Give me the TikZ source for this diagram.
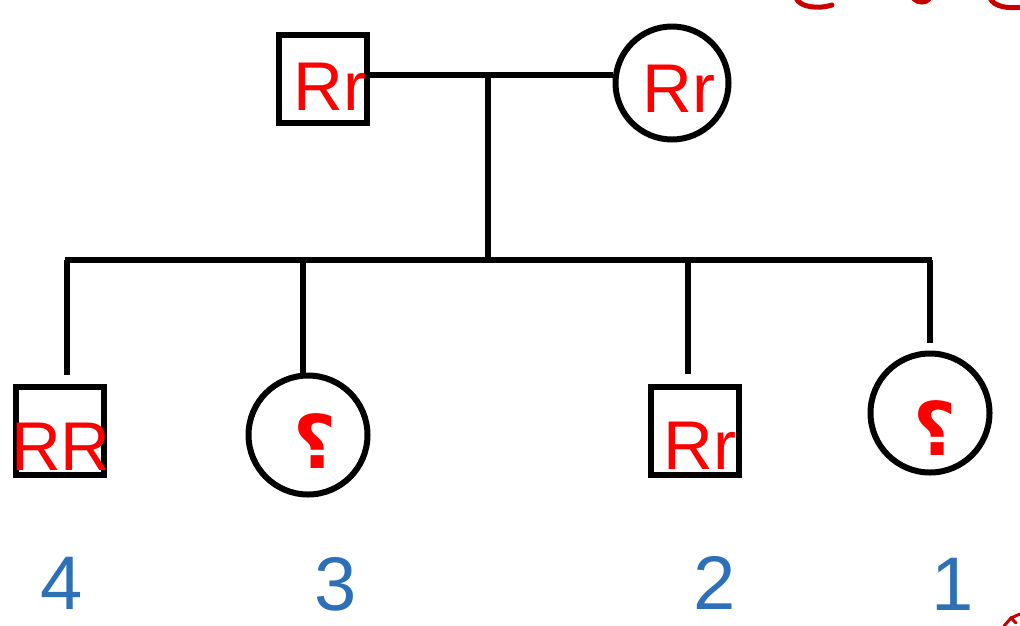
\documentclass[tikz,border=0pt]{standalone}
\usepackage{fontspec}
\setmainfont{Liberation Sans}
\newfontfamily\arabicfont[Script=Arabic]{DejaVu Sans}
\definecolor{numblue}{RGB}{46,112,184}
\definecolor{fragred}{RGB}{200,0,0}
\begin{document}
\begin{tikzpicture}[x=1pt,y=-1pt,
  ln/.style={line width=6pt},
  sq/.style={draw,line width=6pt,minimum size=88pt,inner sep=0pt,shape=rectangle},
  ci/.style={draw,line width=6pt,inner sep=0pt,shape=circle},
  gt/.style={text=red,inner sep=0pt,font=\fontsize{69}{69}\selectfont},
  qm/.style={text=red,inner sep=0pt,font=\arabicfont\bfseries\fontsize{74}{74}\selectfont},
  num/.style={text=numblue,inner sep=0pt,font=\fontsize{76}{76}\selectfont},
  frag/.style={draw=fragred,line width=5pt,line cap=round}]
\useasboundingbox (0,0) rectangle (1020,625);
% parents
\node[sq] (f) at (323,79) {};
\node[ci,minimum size=113pt] (m) at (672,83) {};
\node[gt] (tf) at (330,87) {Rr};
\node[gt] (tm) at (679,89) {Rr};
% children
\node[sq] (c4) at (60,431) {};
\node[ci,minimum size=119pt] (c3) at (308,435) {};
\node[sq] (c2) at (695,431) {};
\node[ci,minimum size=119pt] (c1) at (930,413) {};
\node[gt] (t4) at (61,447) {RR};
\node[qm] (t3) at (315,441) {؟};
\node[gt] (t2) at (700,446) {Rr};
\node[qm] (t1) at (935,428) {؟};
% numbers
\node[num] (n4) at (62,583) {4};
\node[num] (n3) at (336,584) {3};
\node[num] (n2) at (715,583) {2};
\node[num] (n1) at (953,584) {1};
% connectors
\coordinate (mar) at (488,75);
\coordinate (sib) at (488,260);
\coordinate (sl) at (65,260);
\coordinate (sr) at (932,260);
\coordinate (d4) at (67,260);
\coordinate (d3) at (303,260);
\coordinate (d2) at (688,260);
\coordinate (d1) at (930,260);
\draw[ln] (f.east |- mar) -- (m.west |- mar);
\draw[ln] (mar) -- (sib);
\draw[ln] (sl) -- (sr);
\draw[ln,shorten >=9pt] (d4) -- (d4 |- c4.north);
\draw[ln] (d3) -- (d3 |- c3.north);
\draw[ln,shorten >=10pt] (d2) -- (d2 |- c2.north);
\draw[ln,shorten >=8pt] (d1) -- (d1 |- c1.north);
% cut-off red fragments
\draw[frag] (796,-2) .. controls (800,8) and (820,9) .. (832,5);
\draw[frag] (914,-1) .. controls (918,3) and (926,3) .. (929,-1);
\draw[frag] (990,-2) .. controls (994,7) and (1008,9) .. (1024,7);
\draw[frag,line width=3pt] (1004,626) -- (1011,618) -- (1016,623) (1011,618) -- (1020,614);
\end{tikzpicture}
\end{document}
